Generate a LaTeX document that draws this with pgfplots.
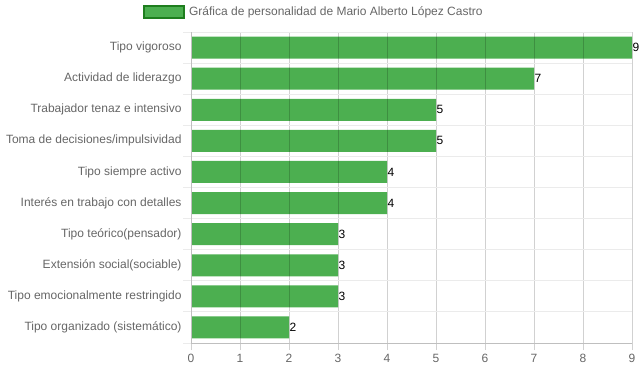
\documentclass[border=0pt]{standalone}
\usepackage{fontspec}
\setmainfont{Liberation Sans}
\usepackage{pgfplots}
\pgfplotsset{compat=1.18}
\definecolor{barfill}{HTML}{4CAF50}
\definecolor{barborder}{HTML}{1E7E1E}
\definecolor{txt}{HTML}{666666}
\begin{document}
\begin{tikzpicture}
\path[use as bounding box] (0,0) rectangle (639bp,372bp);
\begin{axis}[
  at={(191bp,29bp)}, anchor=south west,
  scale only axis, width=441bp, height=311bp,
  xbar, bar width=22bp, bar shift=0pt,
  xmin=0, xmax=9, ymin=-0.5, ymax=9.5, y dir=reverse,
  xtick={0,...,9},
  ytick={0,...,9},
  yticklabels={Tipo vigoroso,Actividad de liderazgo,Trabajador tenaz e intensivo,Toma de decisiones/impulsividad,Tipo siempre activo,Interés en trabajo con detalles,Tipo teórico(pensador),Extensión social(sociable),Tipo emocionalmente restringido,Tipo organizado (sistemático)},
  minor ytick={-0.5,0.5,...,9.5},
  /pgf/number format/assume math mode=true,
  tick label style={font=\fontsize{12bp}{14bp}\selectfont, text=txt},
  xticklabel style={yshift=-1bp},
  yticklabel style={xshift=1bp},
  major y tick style={draw=none},
  minor y tick style={draw=black!8, line width=1bp},
  x tick style={draw=black!18, line width=1bp},
  tick align=outside, major tick length=7bp, minor tick length=8bp,
  xmajorgrids, yminorgrids,
  major x grid style={draw=black, opacity=0.18, line width=1bp},
  minor y grid style={draw=black!8, line width=1bp},
  axis on top,
  axis x line*=bottom, axis y line*=left,
  axis line style={draw=black!25, line width=1bp, -},
  nodes near coords,
  nodes near coords style={anchor=west, inner sep=0.5bp, text=black, font=\fontsize{12bp}{14bp}\selectfont},
  legend style={at={(-0.109,1.087)}, anchor=north west, draw=none, fill=none, inner sep=0pt,
    font=\fontsize{12bp}{14bp}\selectfont, text=txt, cells={anchor=west}},
  legend image code/.code={\draw[fill=barfill, draw=barborder, line width=2bp] (1bp,-6bp) rectangle (41bp,6bp); \path (44bp,0);},
]
\addplot[fill=barfill, draw=none] coordinates {
(9,0) (7,1) (5,2) (5,3) (4,4) (4,5) (3,6) (3,7) (3,8) (2,9)};
\addlegendentry{Gráfica de personalidad de Mario Alberto López Castro}
\end{axis}
\end{tikzpicture}
\end{document}
